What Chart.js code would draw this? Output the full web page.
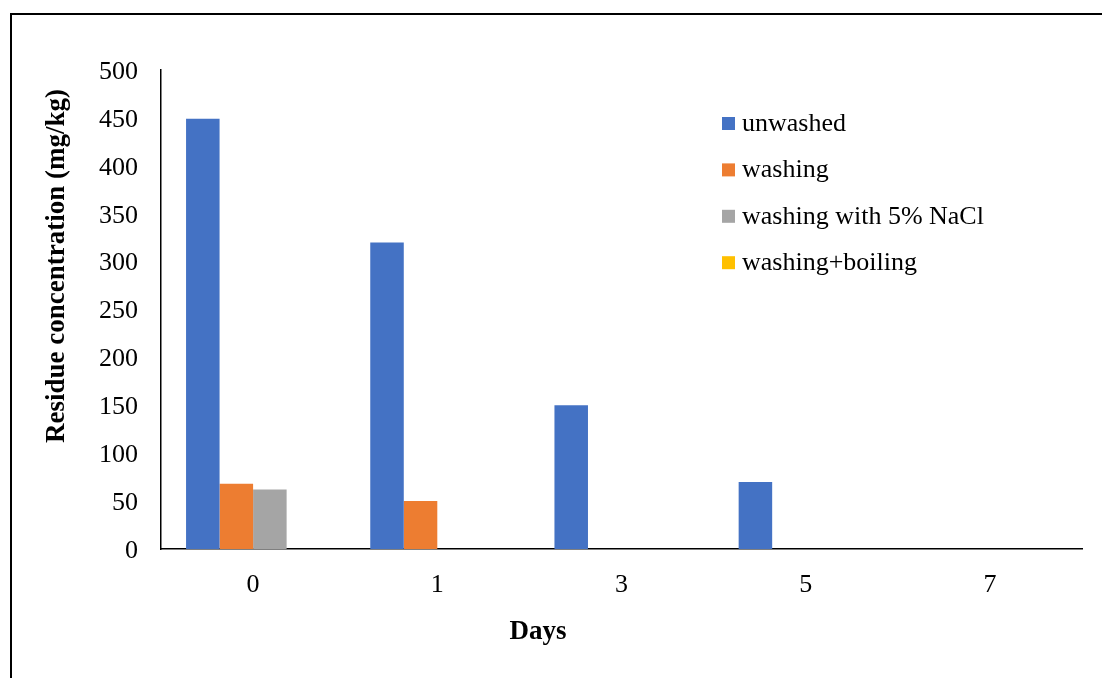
<!DOCTYPE html>
<html>
<head>
<meta charset="utf-8">
<title>Residue concentration by day</title>
<script src="https://cdn.jsdelivr.net/npm/chart.js@4"></script>
<style>
  html, body { margin: 0; padding: 0; background: #fff; }
  #wrap { width: 1102px; height: 678px; }
</style>
</head>
<body>
<div id="wrap"><canvas id="c" width="1102" height="678"></canvas></div>
<script>
// Days after treatment
const days = ['0', '1', '3', '5', '7'];

// Residue concentration (mg/kg) per treatment
const unwashed = [449, 320, 150, 70, 0];
const washing = [68, 50, 0, 0, 0];
const washingNaCl = [62, 0, 0, 0, 0];
const washingBoiling = [0, 0, 0, 0, 0];

const seriesNames = ['unwashed', 'washing', 'washing with 5% NaCl', 'washing+boiling'];
const seriesColors = ['#4472C4', '#ED7D31', '#A5A5A5', '#FFC000'];

const yTitle = 'Residue concentration (mg/kg)';
const xTitle = 'Days';

const SERIF = '"Liberation Serif", "Times New Roman", serif';

// Outer frame, axis titles and legend drawn on top of the chart
const decorations = {
  id: 'decorations',
  afterDraw(chart) {
    const ctx = chart.ctx;
    ctx.save();
    // frame
    ctx.strokeStyle = '#000';
    ctx.lineWidth = 2;
    ctx.beginPath();
    ctx.moveTo(11, 678);
    ctx.lineTo(11, 14);
    ctx.lineTo(1102, 14);
    ctx.stroke();

    // y axis title
    ctx.fillStyle = '#000';
    ctx.font = 'bold 27px ' + SERIF;
    ctx.textAlign = 'center';
    ctx.textBaseline = 'middle';
    ctx.save();
    ctx.translate(57, 266);
    ctx.rotate(-Math.PI / 2);
    ctx.fillText(yTitle, 0, 0);
    ctx.restore();

    // x axis title
    ctx.fillText(xTitle, 538, 632);

    // legend
    ctx.font = '26px ' + SERIF;
    ctx.textAlign = 'left';
    ctx.textBaseline = 'alphabetic';
    chart.data.datasets.forEach((ds, i) => {
      const cy = 123.5 + i * 46.4;
      ctx.fillStyle = ds.backgroundColor;
      ctx.fillRect(722, cy - 6.5, 13, 13);
      ctx.fillStyle = '#000';
      ctx.fillText(ds.label, 742, cy + 7.5);
    });
    ctx.restore();
  }
};

const values = [unwashed, washing, washingNaCl, washingBoiling];

new Chart(document.getElementById('c'), {
  type: 'bar',
  data: {
    labels: days,
    datasets: values.map((v, i) => ({
      label: seriesNames[i],
      data: v,
      backgroundColor: seriesColors[i],
      borderWidth: 0,
      categoryPercentage: 0.728,
      barPercentage: 1.0
    }))
  },
  options: {
    responsive: false,
    devicePixelRatio: 1,
    animation: false,
    layout: { padding: { top: 70, right: 20, left: 0, bottom: 0 } },
    plugins: {
      legend: { display: false },
      tooltip: { enabled: false }
    },
    scales: {
      x: {
        grid: { display: false, drawTicks: false },
        border: { color: '#000', width: 1.5 },
        ticks: {
          color: '#000',
          font: { family: SERIF, size: 26 },
          padding: 21
        },
        afterFit(scale) { scale.height = 129; }
      },
      y: {
        min: 0,
        max: 500,
        grid: { display: false, drawTicks: false },
        border: { color: '#000', width: 1.5 },
        ticks: {
          stepSize: 50,
          color: '#000',
          font: { family: SERIF, size: 26 },
          padding: 23,
          labelOffset: 2
        },
        afterFit(scale) { scale.width = 161; }
      }
    }
  },
  plugins: [decorations]
});
</script>
</body>
</html>
